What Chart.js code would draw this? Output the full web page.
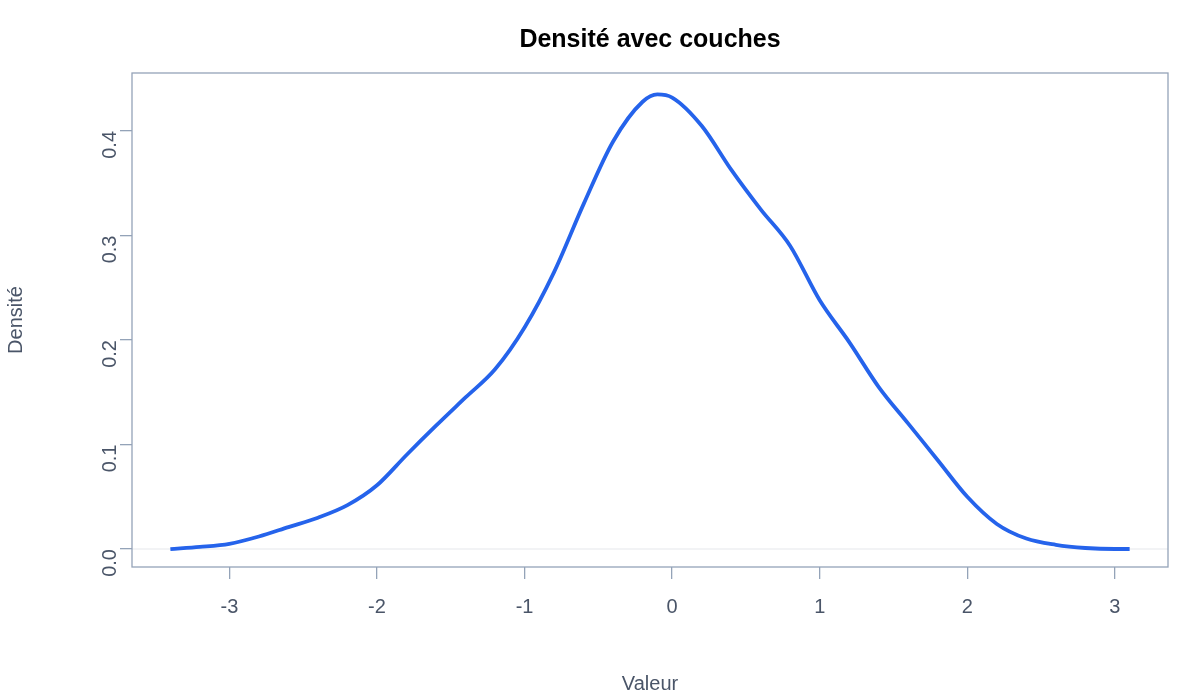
<!DOCTYPE html>
<html><head><meta charset="utf-8">
<script src="https://cdn.jsdelivr.net/npm/chart.js@4/dist/chart.umd.min.js"></script>
<style>html,body{margin:0;padding:0;background:#fff}#w{width:1200px;height:700px}</style>
</head><body><div id="w"><canvas id="c"></canvas></div>
<script>
const xValues=[-3.4,-3.2,-3.0,-2.8,-2.6,-2.4,-2.2,-2.0,-1.8,-1.6,-1.4,-1.2,-1.0,-0.8,-0.6,-0.4,-0.2,-0.1,0.0,0.2,0.4,0.6,0.8,1.0,1.2,1.4,1.6,1.8,2.0,2.2,2.4,2.6,2.8,3.0,3.1];
const density=[0.0,0.002,0.005,0.012,0.021,0.03,0.042,0.061,0.09,0.118,0.145,0.172,0.212,0.265,0.33,0.39,0.428,0.435,0.432,0.405,0.363,0.325,0.29,0.238,0.198,0.155,0.12,0.085,0.05,0.024,0.01,0.004,0.001,0.0,0.0];
const xTicks=[-3,-2,-1,0,1,2,3];
const yTicks=[0,0.1,0.2,0.3,0.4];
const axisCol='#4a5568', lineCol='#94a3b8';
const deco={id:'deco',
 beforeDatasetsDraw(ch){const {ctx,chartArea:a,scales:{y}}=ch;ctx.save();ctx.strokeStyle='#e5e7eb';ctx.lineWidth=1;const y0=y.getPixelForValue(0);ctx.beginPath();ctx.moveTo(a.left,y0);ctx.lineTo(a.right,y0);ctx.stroke();ctx.restore();},
 afterDraw(ch){const {ctx,chartArea:a}=ch;ctx.save();ctx.strokeStyle=lineCol;ctx.lineWidth=1.3;ctx.strokeRect(a.left,a.top,a.right-a.left,a.bottom-a.top);
 ctx.fillStyle='#000';ctx.font='bold 25px "Liberation Sans", Arial';ctx.textAlign='center';ctx.textBaseline='middle';ctx.fillText('Densité avec couches',(a.left+a.right)/2,40);ctx.restore();}};
new Chart(document.getElementById('c'),{type:'line',
 data:{datasets:[{data:xValues.map((x,i)=>({x,y:density[i]})),borderColor:'#2563eb',borderWidth:3.8,pointRadius:0,cubicInterpolationMode:'monotone',fill:false}]},
 options:{responsive:true,maintainAspectRatio:false,animation:false,
  layout:{padding:{top:73,right:32,left:0,bottom:0}},
  plugins:{legend:{display:false},tooltip:{enabled:false},title:{display:false}},
  scales:{
   x:{type:'linear',min:-3.66,max:3.36,afterBuildTicks:s=>{s.ticks=xTicks.map(v=>({value:v}))},
    afterFit:s=>{s.height=133},
    border:{display:false},grid:{drawOnChartArea:false,tickLength:12,color:lineCol,lineWidth:1.3},
    ticks:{color:axisCol,font:{size:20,family:'"Liberation Sans", Arial'},padding:16,maxRotation:0},
    title:{display:true,text:'Valeur',color:axisCol,font:{size:20,family:'"Liberation Sans", Arial'},padding:{top:28}}},
   y:{type:'linear',min:-0.0172,max:0.4555,afterBuildTicks:s=>{s.ticks=yTicks.map(v=>({value:v}))},
    afterFit:s=>{s.width=132},
    border:{display:false},grid:{drawOnChartArea:false,tickLength:12,color:lineCol,lineWidth:1.3},
    ticks:{color:axisCol,font:{size:20,family:'"Liberation Sans", Arial'},padding:10,minRotation:90,maxRotation:90,callback:v=>v.toFixed(1)},
    title:{display:true,text:'Densité',color:axisCol,font:{size:20,family:'"Liberation Sans", Arial'},padding:{bottom:30}}}}},
 plugins:[deco]});
</script></body></html>
